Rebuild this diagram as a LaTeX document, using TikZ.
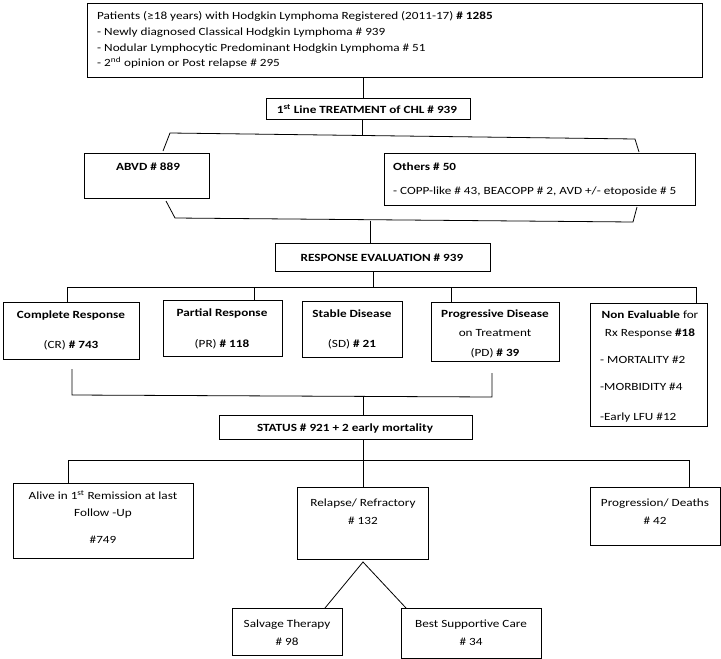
\documentclass[tikz,border=0pt]{standalone}
\usepackage{fontspec}
\setmainfont[FakeStretch=1.2]{Carlito}
\usetikzlibrary{fit}
\begin{document}
\begin{tikzpicture}[x=1pt,y=-1pt,
  box/.style={draw=black, line width=0.9pt, inner sep=0pt, outer sep=0pt},
  link/.style={draw=black, line width=0.8pt},
  txt/.style={inner sep=0pt, anchor=base, font=\fontsize{11}{13}\selectfont},
  txl/.style={txt, anchor=base west}]
\useasboundingbox (0,0) rectangle (721,659);
% ---------- boxes ----------
\node[box, fit={(87,3) (702,77)}] (reg) {};
\node[box, fit={(266,98) (470,119)}] (first) {};
\node[box, fit={(84,153) (209,198)}] (abvd) {};
\node[box, fit={(384,153) (695,205)}] (others) {};
\node[box, fit={(275,243) (490,271)}] (resp) {};
\node[box, fit={(3,302) (139,359)}] (cr) {};
\node[box, fit={(163,300) (282,356)}] (pr) {};
\node[box, fit={(302,301) (402,357)}] (sd) {};
\node[box, fit={(431,302) (559,361)}] (pd) {};
\node[box, fit={(590,303) (707,426)}] (ne) {};
\node[box, fit={(219,415) (472,439)}] (status) {};
\node[box, fit={(13,483) (193,558)}] (alive) {};
\node[box, fit={(297,487) (428,559)}] (relapse) {};
\node[box, fit={(590,487) (720,545)}] (prog) {};
\node[box, fit={(232,608) (342,655)}] (salv) {};
\node[box, fit={(401,608) (541,658)}] (bsc) {};
% ---------- texts ----------
\node[txl] (reg1) at (97,19.5) {Patients (≥18 years) with Hodgkin Lymphoma Registered (2011-17) \textbf{\# 1285}};
\node[txl] (reg2) at (97,35.5) {- Newly diagnosed Classical Hodgkin Lymphoma \# 939};
\node[txl] (reg3) at (97,51.5) {- Nodular Lymphocytic Predominant Hodgkin Lymphoma \# 51};
\node[txl] (reg4) at (97,66.5) {- 2\textsuperscript{nd} opinion or Post relapse \# 295};
\node[txt] (firstt) at (367,113) {\textbf{1\textsuperscript{st} Line TREATMENT of CHL \# 939}};
\node[txt] (abvdt) at (148,170.5) {\textbf{ABVD \# 889}};
\node[txl] (oth1) at (393,170.5) {\textbf{Others \# 50}};
\node[txl] (oth2) at (393,194.5) {- COPP-like \# 43, BEACOPP \# 2, AVD +/- etoposide \# 5};
\node[txt] (respt) at (382,261) {\textbf{RESPONSE EVALUATION \# 939}};
\node[txt] (cr1) at (71,318.5) {\textbf{Complete Response}};
\node[txt] (cr2) at (71,348.5) {(CR) \textbf{\# 743}};
\node[txt] (pr1) at (222,316.5) {\textbf{Partial Response}};
\node[txt] (pr2) at (222,347.5) {(PR) \textbf{\# 118}};
\node[txt] (sd1) at (352,317.5) {\textbf{Stable Disease}};
\node[txt] (sd2) at (352,347.5) {(SD) \textbf{\# 21}};
\node[txt] (pd1) at (495,317.5) {\textbf{Progressive Disease}};
\node[txt] (pd2) at (495,336.5) {on Treatment};
\node[txt] (pd3) at (495,356.5) {(PD) \textbf{\# 39}};
\node[txt] (ne1) at (650,318.5) {\textbf{Non Evaluable} for};
\node[txt] (ne2) at (650,336.5) {Rx Response \textbf{\#18}};
\node[txl] (ne3) at (600,363.5) {- MORTALITY \#2};
\node[txl] (ne4) at (600,390.5) {-MORBIDITY \#4};
\node[txl] (ne5) at (600,420.5) {-Early LFU \#12};
\node[txt] (statust) at (345,431) {\textbf{STATUS \# 921 + 2 early mortality}};
\node[txt] (al1) at (103,499.5) {Alive in 1\textsuperscript{st} Remission at last};
\node[txt] (al2) at (103,516.5) {Follow -Up};
\node[txt] (al3) at (103,543.5) {\#749};
\node[txt] (re1) at (363,506) {Relapse/ Refractory};
\node[txt] (re2) at (363,524) {\# 132};
\node[txt] (pg1) at (655,506) {Progression/ Deaths};
\node[txt] (pg2) at (655,524) {\# 42};
\node[txt] (sv1) at (287,627) {Salvage Therapy};
\node[txt] (sv2) at (287,645) {\# 98};
\node[txt] (bs1) at (471,627) {Best Supportive Care};
\node[txt] (bs2) at (471,645) {\# 34};
% ---------- junction coordinates ----------
\coordinate (j1) at (363,0);
\coordinate (bt) at (362,136);
\coordinate (bl) at (170,133);
\coordinate (br) at (635,139);
\coordinate (bla) at (163,151);
\coordinate (bra) at (639,152);
\coordinate (lla) at (166,201);
\coordinate (ll) at (175,218);
\coordinate (lr) at (633,222);
\coordinate (lra) at (637,207);
\coordinate (lm) at (370,220.5);
\coordinate (r1) at (373,287);
\coordinate (rl) at (67,287);
\coordinate (rr) at (696,287);
\coordinate (xpr) at (254,0);
\coordinate (xpd) at (451,0);
\coordinate (ca) at (72,369);
\coordinate (cb) at (72,395);
\coordinate (cc) at (492,397);
\coordinate (cd) at (492,373);
\coordinate (cm) at (363,396);
\coordinate (s1) at (363,460);
\coordinate (sl) at (68,460);
\coordinate (sr) at (689,460);
\coordinate (apex) at (363,562);
\coordinate (sva) at (325,608);
\coordinate (bsa) at (406,608);
% ---------- connectors ----------
\draw[link] (reg.south -| j1) -- (first.north -| j1);
\draw[link] (first.south -| bt) -- (bt);
\draw[link] (bla) -- (bl) -- (br) -- (bra);
\draw[link] (lla) -- (ll) -- (lr) -- (lra);
\draw[link] (lm) -- (resp.north -| lm);
\draw[link] (resp.south -| r1) -- (r1);
\draw[link] (cr.north -| rl) -- (rl) -- (rr) -- (ne.north -| rr);
\draw[link] (pr.north -| xpr) -- (rl -| xpr);
\draw[link] (pd.north -| xpd) -- (rl -| xpd);
\draw[link] (ca) -- (cb) -- (cc) -- (cd);
\draw[link] (cm) -- (status.north -| cm);
\draw[link] (status.south -| s1) -- (s1);
\draw[link] (alive.north -| sl) -- (sl) -- (sr) -- (prog.north -| sr);
\draw[link] (s1) -- (relapse.north -| s1);
\draw[link] (sva) -- (apex) -- (bsa);
\end{tikzpicture}
\end{document}
